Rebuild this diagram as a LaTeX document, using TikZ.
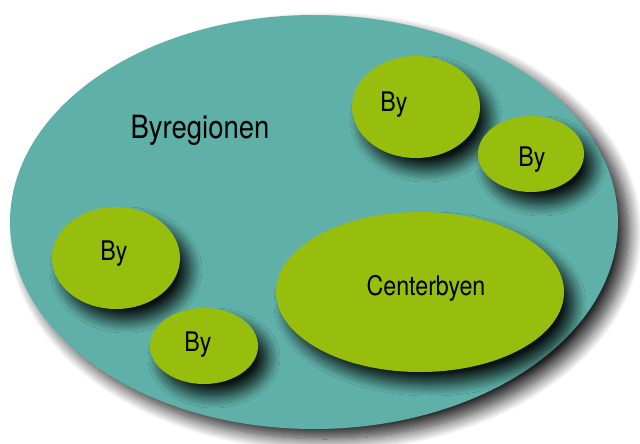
\documentclass[tikz,border=0pt]{standalone}
\usepackage{fontspec}
\setmainfont{TeX Gyre Heros}
\usepackage{graphicx}
\usetikzlibrary{shapes.geometric,shadows.blur}
\definecolor{regionteal}{RGB}{95,176,168}
\definecolor{bygreen}{RGB}{151,190,13}
\newcommand{\narrowtext}[1]{\scalebox{0.86}[1]{#1}}
\tikzset{
  regionshape/.style={ellipse, fill=regionteal, inner sep=0pt,
    blur shadow={shadow xshift=11pt, shadow yshift=-10pt, shadow blur radius=13pt,
      shadow blur steps=16, shadow opacity=85}},
  byshape/.style={ellipse, fill=bygreen, inner sep=0pt,
    blur shadow={shadow xshift=10pt, shadow yshift=-12pt, shadow blur radius=12pt,
      shadow blur steps=14, shadow opacity=90}},
  bylabel/.style={inner sep=0pt, font=\fontsize{27}{30}\selectfont},
}
\begin{document}
\begin{tikzpicture}[x=1pt, y=-1pt]
                \useasboundingbox (0.000000,0.000000) rectangle (640.000000,444.000000);
                
                % Drawing region Byregionen
                \node [regionshape, minimum width=608pt, minimum height=414pt] (region) at (314.000000,222.000000) {};%
                \node [bylabel, font=\fontsize{32}{35}\selectfont] (regionname) at (200.000000,130.000000) {\narrowtext{Byregionen}};%
                
                % Drawing city By (top)
                \node [byshape, minimum width=128pt, minimum height=102pt] (bytop) at (416.000000,107.000000) {};%
                \node [bylabel] (bytoplabel) at (394.000000,105.000000) {\narrowtext{By}};%
                
                % Drawing city By (right)
                \node [byshape, minimum width=106pt, minimum height=76pt] (byright) at (531.000000,154.000000) {};%
                \node [bylabel] (byrightlabel) at (532.000000,160.000000) {\narrowtext{By}};%
                
                % Drawing city By (left)
                \node [byshape, minimum width=128pt, minimum height=102pt] (byleft) at (116.000000,258.000000) {};%
                \node [bylabel] (byleftlabel) at (114.000000,254.000000) {\narrowtext{By}};%
                
                % Drawing city By (bottom)
                \node [byshape, minimum width=108pt, minimum height=76pt] (bybottom) at (204.000000,346.000000) {};%
                \node [bylabel] (bybottomlabel) at (198.000000,345.000000) {\narrowtext{By}};%
                
                % Drawing city Centerbyen
                \node [byshape, minimum width=288pt, minimum height=160pt] (center) at (420.000000,292.000000) {};%
                \node [bylabel] (centerlabel) at (426.000000,288.000000) {\narrowtext{Centerbyen}};%
\end{tikzpicture}
\end{document}
